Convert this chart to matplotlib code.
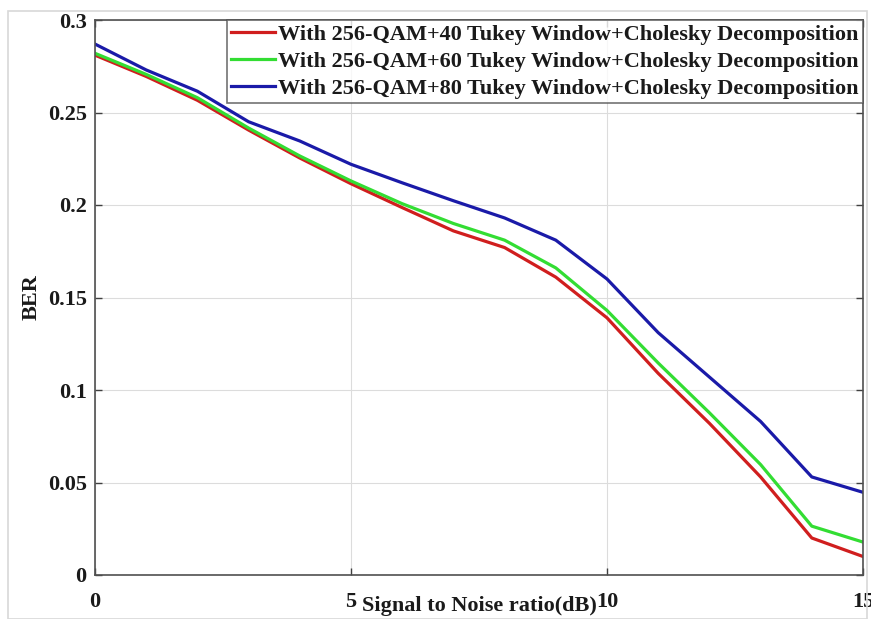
import matplotlib
matplotlib.use("Agg")
import matplotlib.pyplot as plt
from matplotlib.patches import Rectangle

snr = list(range(0, 16))
ber_40 = [0.281, 0.2695, 0.2566, 0.2405, 0.2254, 0.2115, 0.1986, 0.186, 0.177,
          0.161, 0.139, 0.109, 0.082, 0.053, 0.020, 0.010]
ber_60 = [0.282, 0.2706, 0.258, 0.2416, 0.2265, 0.213, 0.2007, 0.190, 0.181,
          0.166, 0.143, 0.1146, 0.0877, 0.0597, 0.0264, 0.0178]
ber_80 = [0.287, 0.273, 0.2615, 0.245, 0.2346, 0.222, 0.212, 0.2023, 0.193,
          0.181, 0.160, 0.131, 0.107, 0.083, 0.053, 0.0447]
labels = ["With 256-QAM+40 Tukey Window+Cholesky Decomposition",
          "With 256-QAM+60 Tukey Window+Cholesky Decomposition",
          "With 256-QAM+80 Tukey Window+Cholesky Decomposition"]
colors = ["#d01e1e", "#33dd33", "#1a1aa8"]
xticks = [0, 5, 10, 15]
yticks = [0, 0.05, 0.1, 0.15, 0.2, 0.25, 0.3]
ytick_labels = ["0", "0.05", "0.1", "0.15", "0.2", "0.25", "0.3"]

plt.rcParams['font.family'] = ['Liberation Serif', 'DejaVu Serif']
plt.rcParams['font.weight'] = 'bold'

fig = plt.figure(figsize=(8.71, 6.19), dpi=100)
ax = fig.add_axes([95 / 871, 1 - 575 / 619, (863 - 95) / 871, (575 - 20) / 619])

# light figure frame
fig.patches.append(Rectangle((8 / 871, 0.0), (867 - 8) / 871, 1 - 11 / 619,
                             transform=fig.transFigure, fill=False,
                             edgecolor="#d8d8d8", linewidth=1.2))

for y, lab, c in zip([ber_40, ber_60, ber_80], labels, colors):
    ax.plot(snr, y, color=c, linewidth=2.3, label=lab)

ax.set_xlim(0, 15)
ax.set_ylim(0, 0.3)
ax.set_xticks(xticks)
ax.set_xticklabels([str(v) for v in xticks])
ax.set_yticks(yticks)
ax.set_yticklabels(ytick_labels)
ax.grid(True, color="#dcdcdc", linewidth=0.8)
ax.tick_params(direction="in", length=5, width=1, colors="#404040",
               labelcolor="#1a1a1a", labelsize=16, top=True, right=True)
ax.tick_params(axis="x", pad=12)
ax.tick_params(axis="y", pad=6)
for s in ax.spines.values():
    s.set_color("#505050")
    s.set_linewidth(1.2)

ax.set_ylabel("BER", fontsize=16, fontweight="bold", color="#1a1a1a", labelpad=4)
ax.set_xlabel("Signal to Noise ratio(dB)", fontsize=16, fontweight="bold",
              color="#1a1a1a", labelpad=-11)

leg = ax.legend(loc="upper right", fontsize=16, frameon=True, fancybox=False,
                borderaxespad=0.0, borderpad=0.2, handlelength=2.0,
                handletextpad=0.12, labelspacing=0.28)
leg.get_frame().set_edgecolor("#505050")
leg.get_frame().set_linewidth(1.2)
for t in leg.get_texts():
    t.set_color("#1a1a1a")

fig.savefig("out.png", dpi=100)
